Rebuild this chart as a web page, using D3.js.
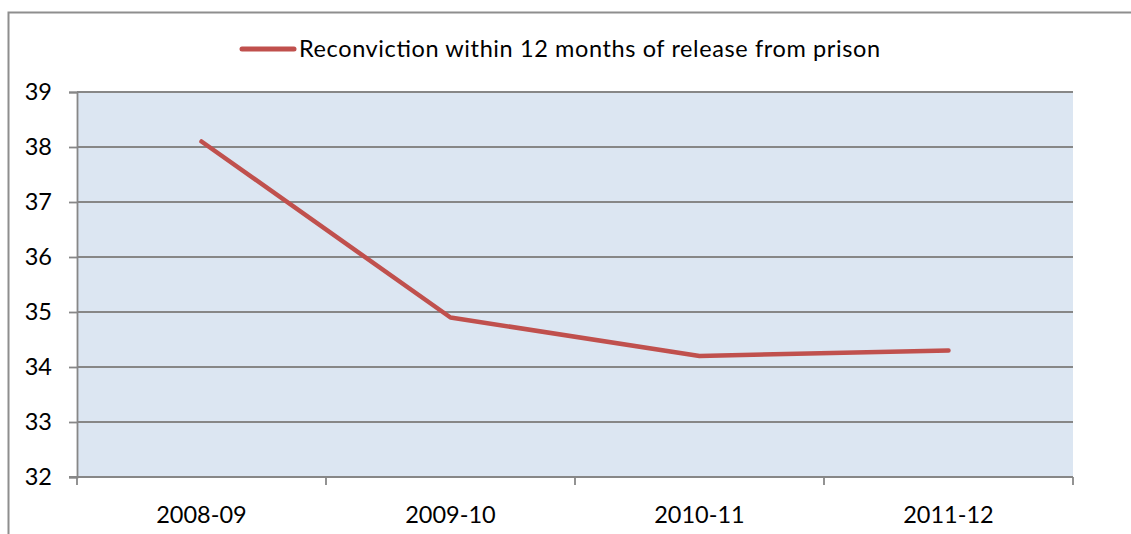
<!DOCTYPE html>
<html>
<head>
<meta charset="utf-8">
<script src="https://cdn.jsdelivr.net/npm/d3@7"></script>
<style>
  html, body { margin: 0; padding: 0; background: #fff; }
  svg { display: block; }
  text { font-family: Lato, "Open Sans", sans-serif; fill: #000; }
</style>
</head>
<body>
<svg id="chart" width="1131" height="534"></svg>
<script>
// Reconviction rate by release year
const categories = ["2008-09", "2009-10", "2010-11", "2011-12"];
const values = [38.1, 34.9, 34.2, 34.3];
const yTicks = [32, 33, 34, 35, 36, 37, 38, 39];
const seriesName = "Reconviction within 12 months of release from prison";

const FONT = "Lato, 'Open Sans', sans-serif";
const FS = 23.5;

const svg = d3.select("#chart");
const W = 1131, H = 534;
const plot = { left: 77, top: 92, right: 1073, bottom: 477 };

// outer chart frame
svg.append("rect")
  .attr("x", 8.5).attr("y", 12.5)
  .attr("width", W).attr("height", H)
  .attr("fill", "#fff")
  .attr("stroke", "#8e8e8e").attr("stroke-width", 2);

const x = d3.scaleBand().domain(categories).range([plot.left, plot.right]);
const y = d3.scaleLinear().domain([32, 39]).range([plot.bottom, plot.top]);

// plot background
svg.append("rect")
  .attr("x", plot.left).attr("y", plot.top)
  .attr("width", plot.right - plot.left).attr("height", plot.bottom - plot.top)
  .attr("fill", "#dce6f2");

// horizontal gridlines
svg.append("g").selectAll("line").data(yTicks.filter(t => t > 32)).join("line")
  .attr("x1", plot.left).attr("x2", plot.right)
  .attr("y1", d => y(d)).attr("y2", d => y(d))
  .attr("stroke", "#878787").attr("stroke-width", 1.8);

// y axis
const yAxis = svg.append("g")
  .attr("transform", `translate(${plot.left},0)`)
  .call(d3.axisLeft(y).tickValues(yTicks).tickSize(8).tickPadding(17).tickFormat(d3.format("d")));
yAxis.attr("font-size", FS).attr("font-family", FONT);
yAxis.select(".domain").attr("stroke", "#878787").attr("stroke-width", 1.8);
yAxis.selectAll(".tick line").attr("stroke", "#878787").attr("stroke-width", 1.8);
yAxis.selectAll(".tick text").attr("fill", "#000");

// x axis with ticks on category boundaries
const xAxisG = svg.append("g").attr("transform", `translate(0,${plot.bottom})`);
xAxisG.append("line")
  .attr("x1", plot.left - 8).attr("x2", plot.right)
  .attr("stroke", "#878787").attr("stroke-width", 1.8);
const bounds = categories.map(c => x(c)).concat([x.range()[1]]);
xAxisG.selectAll("line.tk").data(bounds).join("line").attr("class", "tk")
  .attr("x1", d => d).attr("x2", d => d).attr("y1", 0).attr("y2", 8)
  .attr("stroke", "#878787").attr("stroke-width", 1.8);
xAxisG.selectAll("text").data(categories).join("text")
  .attr("x", d => x(d) + x.bandwidth() / 2).attr("y", 46)
  .attr("text-anchor", "middle").attr("font-size", FS).attr("font-family", FONT)
  .text(d => d);

// series line
const line = d3.line()
  .x((d, i) => x(categories[i]) + x.bandwidth() / 2)
  .y(d => y(d));
svg.append("path").datum(values)
  .attr("d", line)
  .attr("fill", "none")
  .attr("stroke", "#c0504d").attr("stroke-width", 4.5)
  .attr("stroke-linecap", "round").attr("stroke-linejoin", "round");

// legend
const lg = svg.append("g");
lg.append("line")
  .attr("x1", 242).attr("x2", 294).attr("y1", 49).attr("y2", 49)
  .attr("stroke", "#c0504d").attr("stroke-width", 5).attr("stroke-linecap", "round");
lg.append("text")
  .attr("x", 299).attr("y", 57).attr("font-size", FS).attr("font-family", FONT)
  .attr("textLength", 581).attr("lengthAdjust", "spacing")
  .text(seriesName);
</script>
</body>
</html>
